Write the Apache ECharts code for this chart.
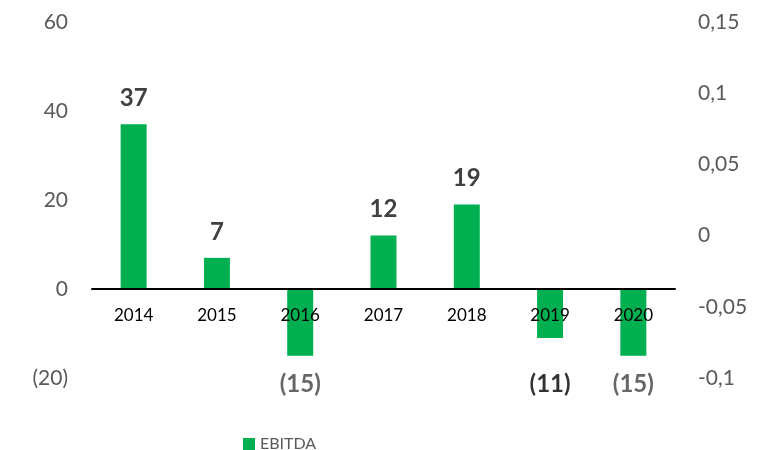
<!DOCTYPE html>
<html>
<head>
<meta charset="utf-8">
<script src="https://cdn.jsdelivr.net/npm/echarts@6/dist/echarts.min.js"></script>
<style>
  html, body { margin: 0; padding: 0; background: #fff; }
  #chart { width: 762px; height: 450px; }
</style>
</head>
<body>
<div id="chart"></div>
<script>
// 数据
var years = ['2014', '2015', '2016', '2017', '2018', '2019', '2020'];
var ebitda = [37, 7, -15, 12, 19, -11, -15];
var leftTicks = { min: -20, max: 60, interval: 20 };
var rightTicks = { min: -0.1, max: 0.15, interval: 0.05 };

var font = 'Lato, "Open Sans", sans-serif';
var gridTop = 22, gridBottom = 72, chartH = 450;

// 负数用括号显示
function fmtNum(v) {
    return v < 0 ? '(' + Math.abs(v) + ')' : String(v);
}

// 负值的标签放在图表底部，2019 的标签是黑色
var negLabels = ebitda.map(function (v, i) {
    if (v >= 0) return '-';
    return { value: leftTicks.min, label: { color: years[i] === '2019' ? '#000' : '#404040' } };
});

// 类目轴移到 0 的位置（连同标签）
var plotH = chartH - gridTop - gridBottom;
var zeroOffset = -plotH * (0 - leftTicks.min) / (leftTicks.max - leftTicks.min);

var chart = echarts.init(document.getElementById('chart'));

var option = {
    animation: false,
    textStyle: { fontFamily: font },
    grid: { left: 92, right: 87, top: gridTop, bottom: gridBottom },
    legend: {
        data: ['EBITDA'],
        icon: 'rect',
        left: 238,
        top: 431,
        itemWidth: 12,
        itemHeight: 12,
        itemGap: 4,
        textStyle: { fontSize: 16, color: '#595959', fontFamily: font }
    },
    xAxis: {
        type: 'category',
        data: years,
        position: 'bottom',
        offset: zeroOffset,
        z: 10,
        axisLine: { onZero: false, lineStyle: { color: '#000', width: 2 } },
        axisTick: { show: false },
        axisLabel: { color: '#000', fontSize: 17, margin: 18, fontFamily: font }
    },
    yAxis: [
        {
            type: 'value',
            min: leftTicks.min,
            max: leftTicks.max,
            interval: leftTicks.interval,
            splitLine: { show: false },
            axisLine: { show: false },
            axisTick: { show: false },
            axisLabel: {
                color: '#595959', fontSize: 21, margin: 24, fontFamily: font,
                formatter: fmtNum
            }
        },
        {
            type: 'value',
            min: rightTicks.min,
            max: rightTicks.max,
            interval: rightTicks.interval,
            splitLine: { show: false },
            axisLine: { show: false },
            axisTick: { show: false },
            axisLabel: {
                color: '#595959', fontSize: 21, margin: 23, fontFamily: font,
                formatter: function (v) {
                    return String(Math.round(v * 100) / 100).replace('.', ',');
                }
            }
        }
    ],
    series: [
        {
            name: 'EBITDA',
            type: 'bar',
            barWidth: 26,
            itemStyle: { color: '#00B050' },
            data: ebitda,
            label: {
                show: true,
                position: 'top',
                distance: 14,
                fontSize: 24,
                fontWeight: 'bold',
                color: '#404040',
                fontFamily: font,
                formatter: function (p) {
                    return p.value > 0 ? fmtNum(p.value) : '';
                }
            }
        },
        {
            name: 'neg',
            type: 'scatter',
            symbolSize: 0,
            silent: true,
            data: negLabels,
            itemStyle: { color: 'transparent' },
            label: {
                show: true,
                position: 'inside',
                offset: [0, 6],
                fontSize: 24,
                fontWeight: 'bold',
                fontFamily: font,
                formatter: function (p) {
                    return fmtNum(ebitda[p.dataIndex]);
                }
            }
        }
    ]
};

chart.setOption(option);
</script>
</body>
</html>
